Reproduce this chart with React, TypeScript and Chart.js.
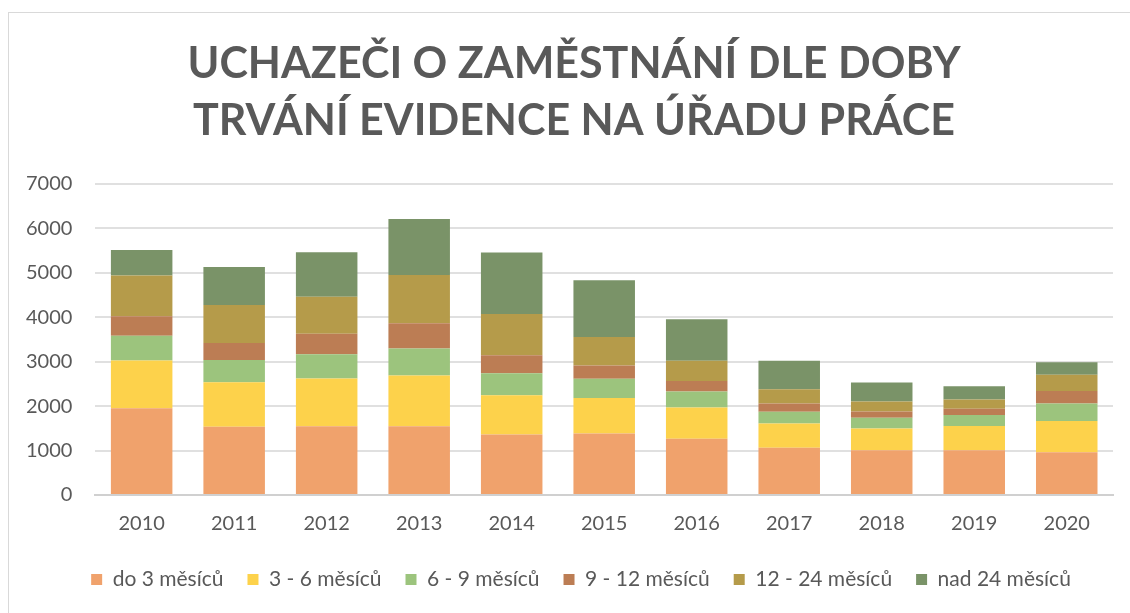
import React, { useEffect, useRef } from "react";
import { Chart, registerables } from "chart.js";

Chart.register(...registerables);

const years = ["2010", "2011", "2012", "2013", "2014", "2015", "2016", "2017", "2018", "2019", "2020"];
const do3 = [1950, 1535, 1550, 1550, 1360, 1385, 1265, 1065, 1010, 1010, 960];
const m3to6 = [1075, 1005, 1070, 1140, 885, 800, 705, 545, 485, 545, 705];
const m6to9 = [560, 500, 550, 605, 495, 430, 360, 265, 245, 245, 395];
const m9to12 = [440, 380, 460, 570, 405, 300, 235, 185, 140, 140, 280];
const m12to24 = [915, 855, 835, 1090, 930, 640, 455, 320, 225, 210, 365];
const nad24 = [575, 860, 1000, 1260, 1385, 1280, 935, 640, 425, 300, 285];

const seriesNames = ["do 3 měsíců", "3 - 6 měsíců", "6 - 9 měsíců", "9 - 12 měsíců", "12 - 24 měsíců", "nad 24 měsíců"];
const seriesColors = ["#F0A26C", "#FDD24B", "#9CC47D", "#BC7D54", "#B59B4A", "#7A9368"];
const titleLines = ["UCHAZEČI O ZAMĚSTNÁNÍ DLE DOBY", "TRVÁNÍ EVIDENCE NA ÚŘADU PRÁCE"];
const yTicks = [0, 1000, 2000, 3000, 4000, 5000, 6000, 7000];

const boxShift = {
  id: "boxShift",
  afterLayout(chart: any) {
    const lg = chart.legend;
    if (lg) {
      lg.left += 23;
      lg.right += 23;
      lg.top -= 8;
      lg.bottom -= 8;
      if (lg.adjustHitBoxes) lg.adjustHitBoxes();
    }
    const tt = chart.titleBlock;
    if (tt) {
      tt.left += 16;
      tt.right += 16;
    }
  },
};

export default function App() {
  const ref = useRef<HTMLCanvasElement | null>(null);
  useEffect(() => {
    if (!ref.current) return;
    const values = [do3, m3to6, m6to9, m9to12, m12to24, nad24];
    const chart = new Chart(ref.current, {
      type: "bar",
      data: {
        labels: years,
        datasets: values.map((v, i) => ({
          label: seriesNames[i],
          data: v,
          backgroundColor: seriesColors[i],
          borderWidth: 0,
          categoryPercentage: 1,
          barPercentage: 0.665,
        })),
      },
      plugins: [boxShift],
      options: {
        animation: false,
        responsive: false,
        maintainAspectRatio: false,
        layout: { padding: { left: 3, right: 17, top: 0, bottom: 5 } },
        plugins: {
          title: {
            display: true,
            text: titleLines,
            color: "#595959",
            font: { family: "Lato", size: 43, weight: "bold", lineHeight: 1.326 },
            padding: { top: 36, bottom: 34 },
          },
          legend: {
            position: "bottom",
            labels: {
              color: "#595959",
              font: { family: "Lato", size: 21 },
              boxWidth: 11,
              boxHeight: 11,
              padding: 24,
            },
          },
          tooltip: { enabled: false },
        },
        scales: {
          x: {
            stacked: true,
            grid: { display: false, drawTicks: false },
            border: { color: "#D0D0D0", width: 2 },
            ticks: { color: "#595959", font: { family: "Lato", size: 20 }, padding: 17 },
          },
          y: {
            stacked: true,
            min: 0,
            max: 7000,
            afterBuildTicks: (axis: any) => {
              axis.ticks = yTicks.map((v) => ({ value: v }));
            },
            grid: { color: "#E0E0E0", lineWidth: 2, drawTicks: false },
            border: { display: false },
            ticks: {
              color: "#595959",
              font: { family: "Lato", size: 20 },
              padding: 23,
              callback: (v: any) => String(v),
            },
          },
        },
      },
    });
    return () => chart.destroy();
  }, []);
  return (
    <div style={{ position: "fixed", left: 0, top: 0, width: 1130, height: 613, overflow: "hidden", background: "#fff" }}>
      <div
        style={{
          position: "absolute",
          left: 8,
          top: 12,
          width: 1140,
          height: 620,
          borderLeft: "1px solid #D9D9D9",
          borderTop: "1px solid #D9D9D9",
        }}
      />
      <canvas ref={ref} width={1130} height={613} style={{ position: "absolute", left: 0, top: 0 }} />
    </div>
  );
}
